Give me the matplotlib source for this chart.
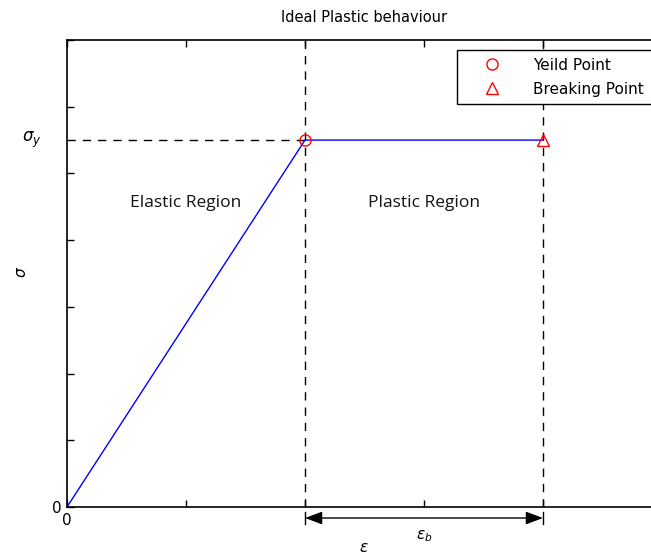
import matplotlib
matplotlib.use("Agg")
import matplotlib.pyplot as plt
from matplotlib.lines import Line2D

# Data
strain = [0, 2, 4]
stress = [0, 5.5, 5.5]
yield_pt = (2, 5.5)
break_pt = (4, 5.5)
x_ticks = [0, 1, 2, 3, 4, 5]
x_ticklabels = ["0", "", "", "", "", ""]
y_ticks = [0, 1, 2, 3, 4, 5, 6, 7]
y_ticklabels = ["0", "", "", "", "", "", "", ""]

W, H = 651, 553
fig = plt.figure(figsize=(W / 100, H / 100), dpi=100)
ax = fig.add_axes([67 / W, 46 / H, 595 / W, 467 / H])

ax.set_xlim(0, 5)
ax.set_ylim(0, 7)

ax.plot(strain, stress, color="#0000ff", lw=1.0, zorder=3)
ax.plot(*yield_pt, marker="o", ms=8, mfc="none", mec="red", mew=1.0, ls="none", zorder=4)
ax.plot(*break_pt, marker="^", ms=9, mfc="none", mec="red", mew=1.0, ls="none", zorder=4)

dash = (0, (6, 5))
ax.plot([0, yield_pt[0]], [yield_pt[1]] * 2, color="black", lw=1.0, ls=dash, zorder=2)
ax.plot([yield_pt[0]] * 2, [0, 7], color="black", lw=1.0, ls=dash, zorder=2)
ax.plot([break_pt[0]] * 2, [0, 7], color="black", lw=1.0, ls=dash, zorder=2)

# dimension arrow below axis
ya = -0.165
for xv in (yield_pt[0], break_pt[0]):
    ax.plot([xv, xv], [-0.07, -0.25], color="black", lw=1.0, clip_on=False)
ax.annotate("", xy=(break_pt[0], ya), xytext=(yield_pt[0], ya),
            arrowprops=dict(arrowstyle="<|-|>,head_length=0.75,head_width=0.28",
                            color="black", lw=1.0,
                            mutation_scale=14, shrinkA=0, shrinkB=0),
            annotation_clip=False)
ax.text(3, -0.43, r"$\epsilon_b$", ha="center", va="center", fontsize=11)

ax.text(-0.3, yield_pt[1], r"$\sigma_y$", ha="center", va="center", fontsize=12)

ax.text(1.0, 4.56, "Elastic Region", ha="center", va="center",
        fontsize=12.5, family="Open Sans", color="#111111")
ax.text(3.0, 4.56, "Plastic Region", ha="center", va="center",
        fontsize=12.5, family="Open Sans", color="#111111")

ax.set_xticks(x_ticks)
ax.set_xticklabels(x_ticklabels)
ax.set_yticks(y_ticks)
ax.set_yticklabels(y_ticklabels)
ax.tick_params(direction="in", length=5, width=1, top=True, right=True,
               labelsize=11, pad=4)
for s in ax.spines.values():
    s.set_linewidth(1.2)

fig.text(364 / W, 1 - 547 / H, r"$\epsilon$", ha="center", va="center", fontsize=11)
fig.text(22 / W, 1 - 272 / H, r"$\sigma$", ha="center", va="center",
         fontsize=11, rotation=90)
ax.set_title("Ideal Plastic behaviour", fontsize=10.5, pad=13)

handles = [
    Line2D([], [], marker="o", ms=8, mfc="none", mec="red", ls="none"),
    Line2D([], [], marker="^", ms=9, mfc="none", mec="red", ls="none"),
]
leg = fig.legend(handles, ["Yeild Point", "Breaking Point"], loc="upper left",
                 bbox_to_anchor=(457 / W, 1 - 50 / H), borderaxespad=0,
                 fancybox=False, edgecolor="black", framealpha=1,
                 fontsize=11, handletextpad=0.9, borderpad=0.5,
                 labelspacing=0.6, handlelength=3.6)
leg.get_frame().set_linewidth(1.0)

fig.savefig("out.png", dpi=100)
